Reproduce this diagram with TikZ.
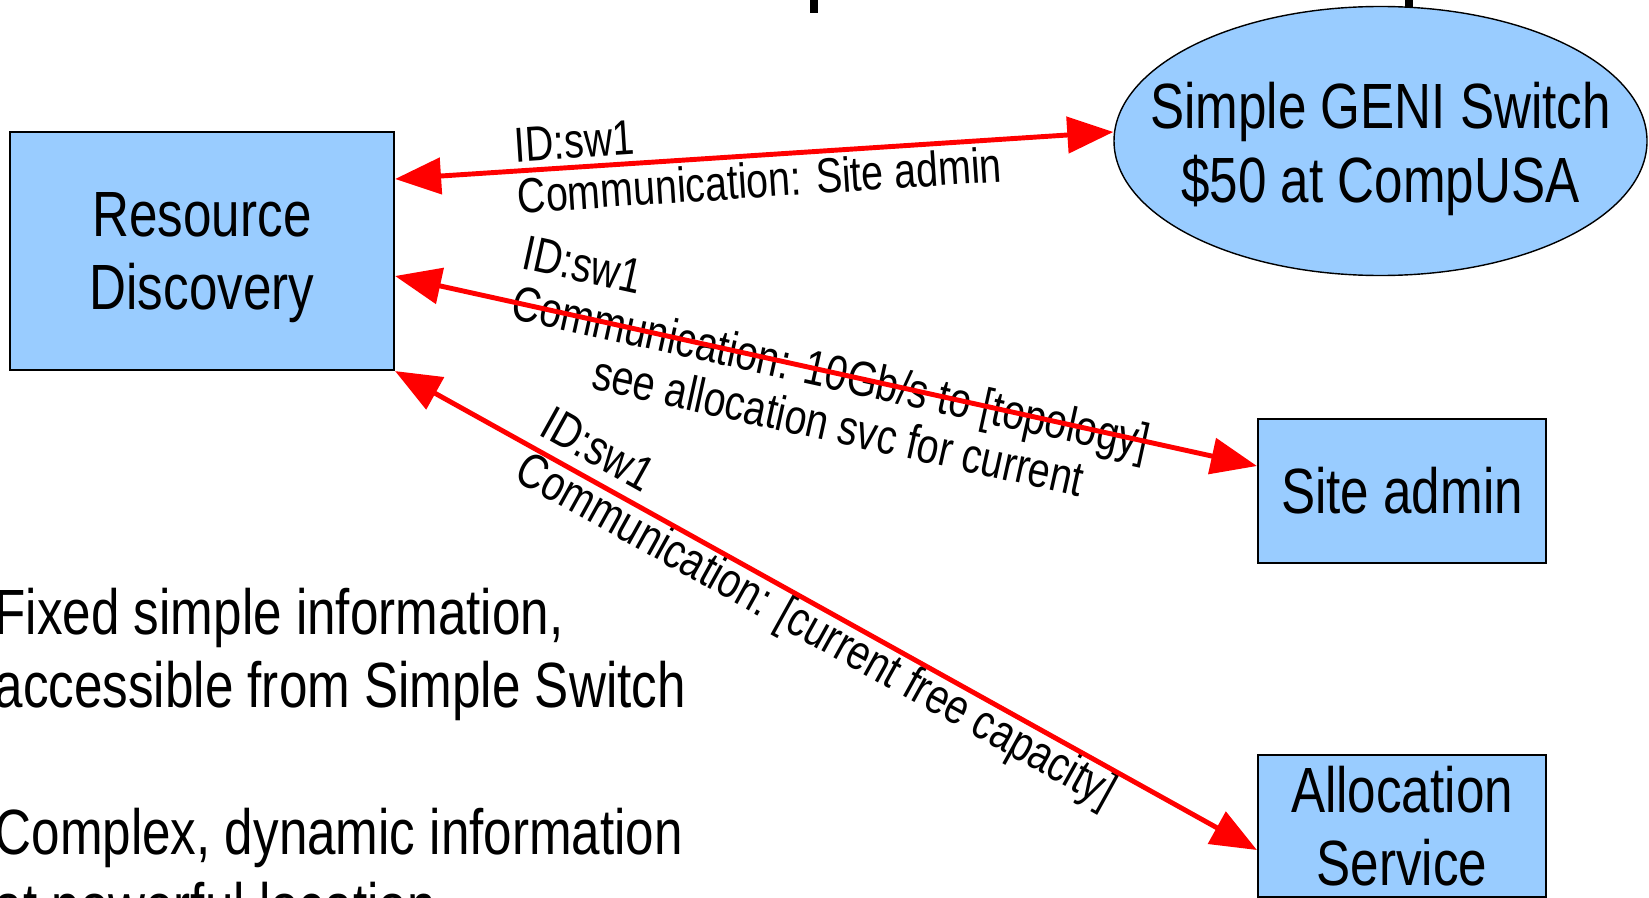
\documentclass[tikz,border=0pt]{standalone}
\usepackage{fontspec}
\setmainfont{Liberation Sans}[FakeStretch=0.8]
\usetikzlibrary{arrows.meta}
\usetikzlibrary{shapes.geometric}
\definecolor{boxblue}{HTML}{99CCFF}

\begin{document}
\begin{tikzpicture}[
        box/.style={draw=black, line width=0.6pt, fill=boxblue, inner sep=0pt, align=center, font=\fontsize{18.2}{20.8}\selectfont},
        link/.style={red, line width=1.4pt, {Triangle[length=4.6mm,width=3.6mm]}-{Triangle[length=4.6mm,width=3.6mm]}},
        tag/.style={sloped, anchor=west, behind path, inner sep=0pt, align=left, text=black, font=\fontsize{14}{14.6}\selectfont}]
        \useasboundingbox (0,0) rectangle (16.49,8.97);
        \node[box, text depth=0pt, minimum width=3.84cm, minimum height=2.38cm] (rd) at (2.02,6.46) {Resource\\Discovery};
        \node[box, ellipse, line width=0.4pt, minimum width=5.33cm, minimum height=2.69cm] (sw) at (13.805,7.56) {};
        \node[align=center, inner sep=0pt, font=\fontsize{18.2}{20.8}\selectfont] (swtext) at ([yshift=-0.8mm]sw.center) {Simple GENI Switch\\\$50 at CompUSA};
        \node[box, minimum width=2.88cm, minimum height=1.44cm] (sa) at (14.02,4.06) {Site admin};
        \node[box, minimum width=2.88cm, minimum height=1.42cm] (as) at (14.02,0.71) {Allocation\\Service};
        \fill[black] (8.10,8.84) rectangle (8.18,8.97);
        \fill[black] (14.05,8.90) rectangle (14.13,8.97);
        \draw[link] ([yshift=7.2mm]rd.east) -- ([yshift=0.9mm]sw.west) node[tag, pos=0.165] {ID:sw1\\Communication: Site admin};
        \draw[link] ([yshift=-2.5mm]rd.east) -- ([yshift=2.5mm]sa.west) node[tag, pos=0.134] {ID:sw1\\Communication: 10Gb/s to [topology]\\\hspace*{0.94cm}see allocation svc for current};
        \draw[link] (rd.south east) -- ([yshift=-2.4mm]as.west) node[tag, pos=0.155] {ID:sw1\\Communication: [current free capacity]};
        \node[anchor=base west, align=left, inner sep=0pt, font=\fontsize{18.2}{20.9}\selectfont] (notes) at (-0.06,-0.31) {Fixed simple information,\\accessible from Simple Switch\\[20.9pt]Complex, dynamic information\\at powerful location};
\end{tikzpicture}
\end{document}
